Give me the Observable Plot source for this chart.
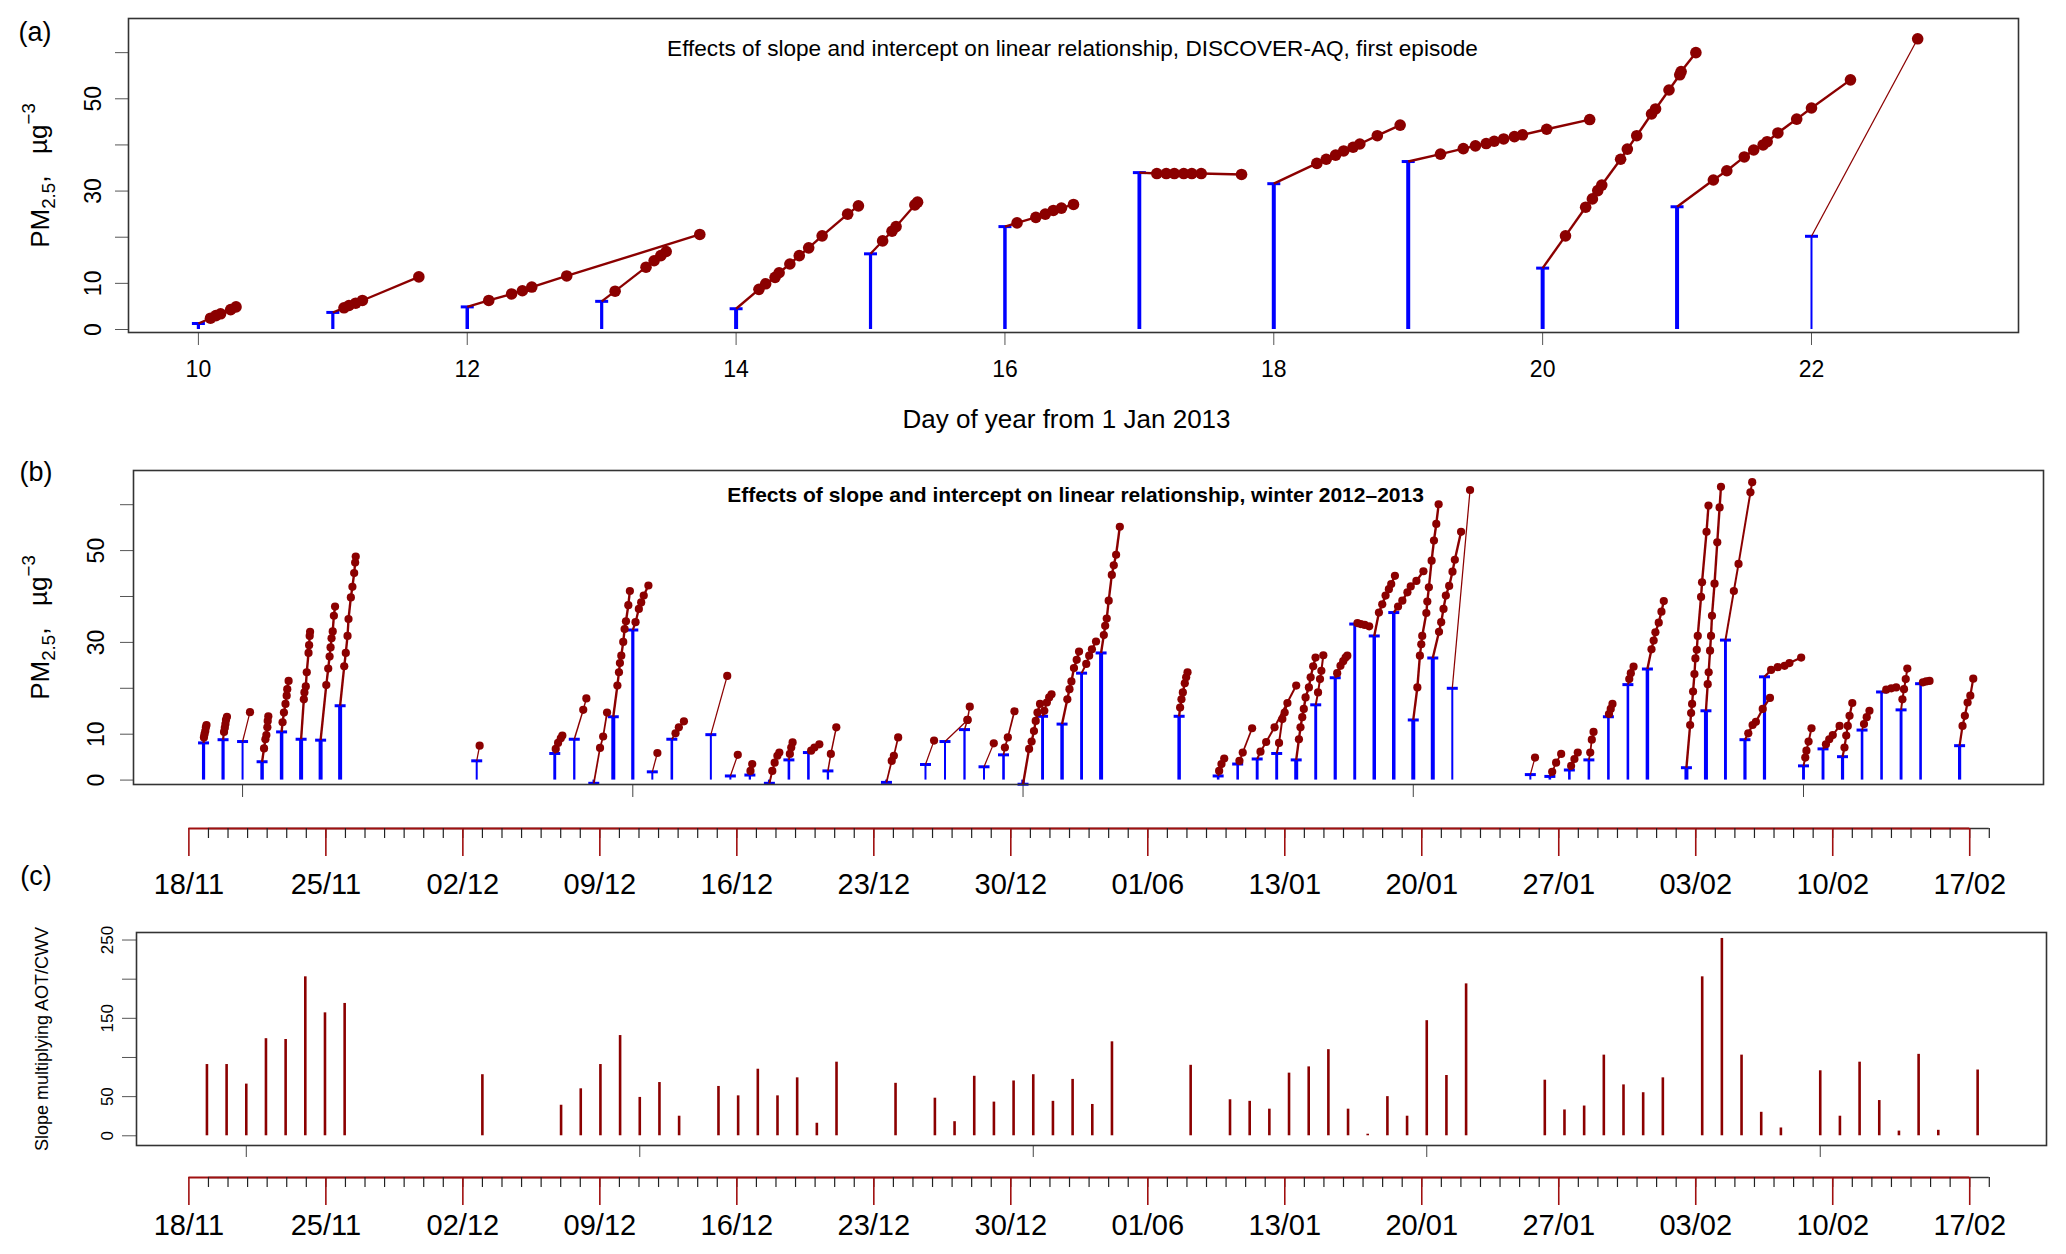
<!DOCTYPE html>
<html><head><meta charset="utf-8">
<script src="https://cdn.jsdelivr.net/npm/d3@7"></script>
<script src="https://cdn.jsdelivr.net/npm/@observablehq/plot@0.6"></script>
<style>
html,body{margin:0;padding:0;background:#fff;overflow:hidden;}
#wrap{position:relative;width:2066px;height:1254px;overflow:hidden;background:#fff;}
#wrap svg{position:absolute;left:0;}
</style></head><body><div id="wrap"></div>
<script>
// ---------- Panel (a): DISCOVER-AQ first episode ----------
const aDays = [10,11,12,13,14,15,16,17,18,19,20,21,22];
const aIntercept = [1.3,3.7,4.9,6.1,4.5,16.4,22.3,34.0,31.6,36.4,13.3,26.6,20.2];
// [offset in days from the bar, PM2.5]
const aDots = [
  [[0.09,2.45],[0.13,3.0],[0.165,3.4],[0.24,4.3],[0.28,4.9]],
  [[0.083,4.7],[0.12,5.2],[0.17,5.7],[0.22,6.3],[0.64,11.4]],
  [[0.16,6.3],[0.33,7.7],[0.41,8.4],[0.48,9.2],[0.74,11.6],[1.73,20.6]],
  [[0.1,8.3],[0.33,13.5],[0.39,14.9],[0.44,16.0],[0.48,16.9]],
  [[0.17,8.7],[0.22,9.9],[0.29,11.3],[0.32,12.3],[0.4,14.2],[0.47,16.0],[0.54,17.7],[0.64,20.3],[0.83,25.0],[0.91,26.8]],
  [[0.09,19.2],[0.16,21.3],[0.19,22.3],[0.33,27.0],[0.35,27.6]],
  [[0.09,23.1],[0.23,24.3],[0.3,25.0],[0.36,25.8],[0.42,26.3],[0.51,27.1]],
  [[0.13,33.8],[0.2,33.8],[0.26,33.8],[0.33,33.8],[0.39,33.8],[0.46,33.8],[0.76,33.6]],
  [[0.32,36.0],[0.39,36.9],[0.46,37.8],[0.52,38.7],[0.59,39.5],[0.64,40.2],[0.77,42.0],[0.94,44.3]],
  [[0.24,38.0],[0.41,39.2],[0.5,39.8],[0.58,40.3],[0.64,40.8],[0.71,41.3],[0.79,41.8],[0.85,42.2],[1.03,43.4],[1.35,45.5]],
  [[0.17,20.3],[0.32,26.5],[0.37,28.3],[0.41,30.1],[0.44,31.3],[0.58,36.9],[0.63,39.1],[0.7,42.0],[0.81,46.7],[0.84,47.8],[0.94,51.9],[1.02,55.2],[1.03,55.9],[1.14,60.0]],
  [[0.27,32.4],[0.37,34.4],[0.5,37.4],[0.57,38.9],[0.64,40.0],[0.67,40.7],[0.75,42.6],[0.89,45.6],[1.0,48.0],[1.29,54.1]],
  [[0.79,63.0]]
];
const aTicksX = [10,12,14,16,18,20,22];
const pmTicks = [0,10,20,30,40,50,60];
const pmLabels = [0,10,30,50];

// ---------- Panel (b): winter 2012-2013 ----------
const bDates = [
  "2012-11-19","2012-11-20","2012-11-21","2012-11-22","2012-11-23","2012-11-24","2012-11-25","2012-11-26",
  "2012-12-03",
  "2012-12-07","2012-12-08","2012-12-09","2012-12-10","2012-12-11","2012-12-12","2012-12-13",
  "2012-12-15","2012-12-16","2012-12-17","2012-12-18","2012-12-19","2012-12-20","2012-12-21",
  "2012-12-24",
  "2012-12-26","2012-12-27","2012-12-28","2012-12-29","2012-12-30","2012-12-31","2013-01-01","2013-01-02","2013-01-03","2013-01-04",
  "2013-01-08",
  "2013-01-10","2013-01-11","2013-01-12","2013-01-13","2013-01-14","2013-01-15","2013-01-16","2013-01-17","2013-01-18","2013-01-19","2013-01-20","2013-01-21","2013-01-22",
  "2013-01-26","2013-01-27","2013-01-28","2013-01-29","2013-01-30","2013-01-31","2013-02-01",
  "2013-02-03","2013-02-04","2013-02-05","2013-02-06","2013-02-07",
  "2013-02-09","2013-02-10","2013-02-11","2013-02-12","2013-02-13","2013-02-14","2013-02-15",
  "2013-02-17"
];
const bIntercept = [
  8.1,8.8,8.4,4.0,10.5,8.9,8.7,16.2,
  4.2,
  5.8,8.9,-0.7,13.8,32.7,1.8,8.9,
  9.9,0.9,1.1,-0.7,4.4,6.0,2.0,
  -0.5,
  3.4,8.4,11.0,2.9,5.5,-0.9,13.9,12.2,23.3,27.7,
  13.9,
  0.9,3.5,4.6,5.8,4.4,16.4,22.3,34.0,31.4,36.5,13.1,26.6,20.0,
  1.2,0.8,2.2,4.4,13.8,20.8,24.2,
  2.7,15.1,30.5,8.8,22.5,
  3.1,6.8,5.1,10.9,19.2,15.3,21.0,
  7.5
];
const bDots = [
  [[0.02,9.3],[0.05,10.0],[0.09,10.7],[0.12,11.5],[0.15,12.0]],
  [[0.05,10.5],[0.09,11.4],[0.12,12.2],[0.15,13.1],[0.2,13.8]],
  [[0.38,14.8]],
  [[0.1,6.9],[0.17,8.9],[0.22,9.8],[0.27,11.5],[0.29,12.9],[0.32,13.9]],
  [[0.05,12.6],[0.12,14.7],[0.2,16.6],[0.26,18.4],[0.29,19.8],[0.36,21.6]],
  [[0.14,17.6],[0.17,19.1],[0.24,20.4],[0.29,23.5],[0.38,27.7],[0.41,29.4],[0.44,31.4],[0.46,32.3]],
  [[0.29,20.7],[0.39,24.3],[0.46,26.9],[0.51,28.9],[0.56,30.9],[0.62,32.4],[0.68,35.8],[0.74,37.8]],
  [[0.21,24.8],[0.29,27.7],[0.38,31.4],[0.43,35.1],[0.55,39.8],[0.63,42.1],[0.72,45.1],[0.77,47.4],[0.8,48.7]],
  [[0.15,7.5]],
  [[0.05,6.8],[0.17,8.1],[0.31,9.1],[0.39,9.7]],
  [[0.46,15.3],[0.62,17.8]],
  [[0.32,7.0],[0.48,9.5],[0.68,14.7]],
  [[0.21,20.6],[0.29,23.5],[0.34,25.5],[0.41,27.1],[0.51,30.1],[0.58,32.9],[0.65,34.6],[0.77,38.1],[0.85,41.2]],
  [[0.14,34.4],[0.31,37.3],[0.43,38.7],[0.56,40.2],[0.8,42.4]],
  [[0.26,5.9]],
  [[0.19,10.2],[0.36,11.5],[0.62,12.8]],
  [[0.84,22.7]],
  [[0.38,5.5]],
  [[0.03,2.0],[0.12,3.5]],
  [[0.15,2.0],[0.27,3.8],[0.41,5.3],[0.51,6.0]],
  [[0.05,5.7],[0.12,7.1],[0.19,8.2]],
  [[0.14,6.4],[0.31,7.1],[0.56,7.8]],
  [[0.15,5.7],[0.43,11.5]],
  [[0.27,4.2],[0.38,5.3],[0.6,9.3]],
  [[0.44,8.6]],
  [[1.16,13.1]],
  [[0.15,13.1],[0.27,16.0]],
  [[0.5,8.0]],
  [[0.07,7.1],[0.22,9.3],[0.56,15.0]],
  [[0.31,6.8],[0.44,8.4],[0.56,10.7],[0.65,12.9],[0.74,14.7],[0.87,16.6]],
  [[0.09,15.1],[0.22,16.9],[0.34,18.0],[0.46,18.7]],
  [[0.27,17.6],[0.38,19.8],[0.48,21.5],[0.61,24.4],[0.75,26.2],[0.87,28.0]],
  [[0.24,25.3],[0.39,27.1],[0.53,28.5],[0.74,30.2]],
  [[0.14,31.6],[0.21,33.6],[0.29,35.2],[0.39,39.1],[0.55,44.7],[0.65,46.8],[0.77,49.1],[0.96,55.2]],
  [[0.05,15.8],[0.12,17.6],[0.19,19.1],[0.29,21.1],[0.36,22.4],[0.43,23.5]],
  [[0.05,2.0],[0.17,3.5],[0.31,4.7]],
  [[0.09,4.2],[0.26,6.0],[0.74,11.3]],
  [[0.17,6.2],[0.46,8.3],[0.89,11.5],[2.0,20.6]],
  [[0.12,8.1],[0.29,13.3],[0.41,14.7],[0.55,16.8]],
  [[0.14,8.9],[0.22,11.5],[0.31,13.7],[0.39,15.5],[0.48,18.0],[0.65,20.2],[0.74,22.4],[0.87,24.8],[0.99,26.7]],
  [[0.12,19.1],[0.22,22.0],[0.29,23.8],[0.39,27.2]],
  [[0.1,23.3],[0.27,24.9],[0.41,25.9],[0.53,26.7],[0.62,27.1]],
  [[0.14,34.2],[0.31,34.0],[0.51,33.8],[0.74,33.5]],
  [[0.24,36.5],[0.41,38.3],[0.58,40.2],[0.75,41.6],[0.87,42.7],[1.06,44.5]],
  [[0.22,37.8],[0.44,39.1],[0.7,40.9],[0.87,42.2],[1.16,43.4],[1.52,45.5]],
  [[0.21,20.2],[0.34,27.1],[0.41,29.6],[0.46,31.4],[0.67,36.4],[0.72,38.9],[0.8,42.0],[0.94,47.8],[1.06,52.2],[1.18,55.8],[1.3,60.1]],
  [[0.32,32.3],[0.43,34.4],[0.55,37.3],[0.67,40.2],[0.84,42.3],[1.01,45.4],[1.13,48.0],[1.45,54.1]],
  [[0.91,63.2]],
  [[0.24,4.9]],
  [[0.12,1.8],[0.32,3.8],[0.58,5.7]],
  [[0.09,3.1],[0.26,4.6],[0.43,6.0]],
  [[0.07,6.0],[0.15,8.8],[0.24,10.5]],
  [[0.03,14.4],[0.12,15.5],[0.21,16.6]],
  [[0.07,22.0],[0.15,23.3],[0.29,24.7]],
  [[0.21,28.5],[0.32,30.4],[0.41,32.2],[0.58,34.3],[0.72,36.7],[0.84,39.0]],
  [[0.19,12.0],[0.24,14.6],[0.29,16.6],[0.34,19.3],[0.41,23.1],[0.46,26.5],[0.53,28.4],[0.58,31.4],[0.75,39.9],[0.8,43.1],[1.03,54.1],[1.13,59.8]],
  [[0.09,20.9],[0.14,23.5],[0.21,28.2],[0.26,31.4],[0.31,35.8],[0.44,42.8],[0.58,51.8],[0.7,59.4],[0.77,63.9]],
  [[0.43,41.2],[0.67,47.1],[1.28,62.7],[1.37,64.9]],
  [[0.17,10.2],[0.39,12.0],[0.56,12.7],[0.91,15.5],[1.28,17.9]],
  [[0.34,24.0],[0.68,24.6],[1.03,24.9],[1.28,25.5],[1.88,26.7]],
  [[0.09,4.9],[0.15,6.4],[0.26,8.4],[0.41,11.3]],
  [[0.15,7.8],[0.32,8.9],[0.5,9.8],[0.85,11.8]],
  [[0.1,7.1],[0.19,9.7],[0.27,11.8],[0.36,14.0],[0.5,16.8]],
  [[0.1,12.2],[0.24,13.7],[0.38,15.1]],
  [[0.24,19.7],[0.5,20.0],[0.75,20.2]],
  [[0.07,17.6],[0.15,19.8],[0.24,22.0],[0.32,24.3]],
  [[0.12,21.3],[0.29,21.5],[0.46,21.6]],
  [[0.15,11.8],[0.27,14.0],[0.41,16.9],[0.55,18.4],[0.7,22.1]]
];

// ---------- Panel (c): slope multiplying AOT/CWV (same dates as bDates) ----------
const cSlope = [
  91,91,66,124,123,203,157,169,
  78,
  39,60,91,128,49,68,25,
  63,51,85,51,74,16,94,
  67,
  48,18,76,43,70,78,44,72,40,120,
  90,
  46,44,34,80,88,110,34,2,50,25,147,77,194,
  71,33,38,103,65,55,74,
  203,252,103,30,10,
  83,25,94,45,6,104,7,
  84
];
const slopeTicks = [0,50,100,150,200,250];
const slopeLabels = [0,50,150,250];

// ---------- date axes ----------
const gridTickDates = ["2012-11-21","2012-12-11","2012-12-31","2013-01-20","2013-02-09"];
const weekTickDates = ["2012-11-18","2012-11-25","2012-12-02","2012-12-09","2012-12-16","2012-12-23","2012-12-30",
  "2013-01-06","2013-01-13","2013-01-20","2013-01-27","2013-02-03","2013-02-10","2013-02-17"];
const weekTickLabels = ["18/11","25/11","02/12","09/12","16/12","23/12","30/12","01/06","13/01","20/01","27/01","03/02","10/02","17/02"];

const aTitle = "Effects of slope and intercept on linear relationship, DISCOVER-AQ, first episode";
const bTitle = "Effects of slope and intercept on linear relationship, winter 2012\u20132013";
const aXLabel = "Day of year from 1 Jan 2013";
const pmLabel = "PM2.5, \u00b5g-3";
const cYLabel = "Slope multiplying AOT/CWV";

// ================= drawing =================
const W = 2066;
const FONT = "'Liberation Sans', Arial, Helvetica, sans-serif";
const RED = "#8b0000", BLUE = "#0000ff", AXR = "#a01010";
const DAY0 = Date.UTC(2012, 10, 18);
const dayIndex = s => Math.round((Date.parse(s) - DAY0) / 864e5);
const capSymbol = {draw(ctx, size) { const r = Math.sqrt(size / Math.PI); ctx.moveTo(-r, 0); ctx.lineTo(r, 0); }};
const barW = n => Math.min(4.0, 1.7 + 0.3 * n);
const lineW = n => Math.min(2.4, 1.0 + 0.25 * n);

function build(xs, ints, dots) {
  const bars = [], segs = [], pts = [];
  xs.forEach((x, i) => {
    const n = dots[i].length;
    bars.push({x, y: ints[i], n});
    let px = x, py = ints[i];
    dots[i].forEach(([o, v]) => {
      segs.push({x1: px, y1: py, x2: x + o, y2: v, n});
      px = x + o; py = v;
      pts.push({x: x + o, y: v});
    });
  });
  return {bars, segs, pts};
}
const baseStyle = {fontFamily: FONT, fontSize: "23px", background: "transparent", color: "#000", overflow: "visible", maxWidth: "none"};
const wrap = document.getElementById("wrap");
function place(svg, top) { svg.style.top = top + "px"; wrap.appendChild(svg); }
function richPM(svg) {
  d3.select(svg).selectAll("text").filter(function () { return this.textContent === pmLabel; }).each(function () {
    const t = d3.select(this); t.text(null);
    t.append("tspan").text("PM");
    t.append("tspan").attr("font-size", "0.72em").attr("dy", "0.32em").text("2.5");
    t.append("tspan").attr("dy", "-0.32em").text(",\u00a0\u00a0\u00a0\u00b5g");
    t.append("tspan").attr("font-size", "0.72em").attr("dy", "-0.6em").text("\u22123");
  });
}
const txt = d => d;

// ----- (a)
const A = build(aDays, aIntercept, aDots);
const plotA = Plot.plot({
  width: W, height: 440, marginTop: 18, marginBottom: 108, marginLeft: 128, marginRight: 48,
  style: baseStyle,
  x: {domain: [9.48, 23.54], label: null}, y: {domain: [-0.65, 67.4], label: null},
  marks: [
    Plot.axisX({ticks: aTicksX, tickSize: 13, tickPadding: 15, label: null, fontSize: 23, stroke: "#555"}),
    Plot.axisY({ticks: pmTicks, tickSize: 13, tickPadding: 15, tickRotate: -90, label: null, fontSize: 23, stroke: "#555",
      tickFormat: d => pmLabels.includes(d) ? String(d) : ""}),
    Plot.ruleX(A.bars, {x: "x", y1: 0, y2: "y", stroke: BLUE, strokeWidth: d => barW(d.n)}),
    Plot.dot(A.bars, {x: "x", y: "y", symbol: capSymbol, r: 6.5, stroke: BLUE, strokeWidth: 3, fill: "none"}),
    Plot.link(A.segs, {x1: "x1", y1: "y1", x2: "x2", y2: "y2", stroke: RED, strokeWidth: d => lineW(d.n)}),
    Plot.dot(A.pts, {x: "x", y: "y", r: 5.8, fill: RED, stroke: "none"}),
    Plot.frame({stroke: "#333", strokeWidth: 1.6}),
    Plot.text([aTitle], {frameAnchor: "top", dy: 30, dx: -1, fontSize: 22.6, text: txt, lineAnchor: "middle"}),
    Plot.text([aXLabel], {frameAnchor: "bottom", dy: 87, dx: -7, fontSize: 26, text: txt, lineAnchor: "middle"}),
    Plot.text([pmLabel], {frameAnchor: "left", dx: -88, rotate: -90, textAnchor: "middle", lineAnchor: "middle", fontSize: 26, text: txt}),
    Plot.text(["(a)"], {frameAnchor: "top-left", dx: -93.5, dy: 14, textAnchor: "middle", lineAnchor: "middle", fontSize: 27, text: txt})
  ]
});
richPM(plotA); place(plotA, 0);

// ----- (b)
const bX = bDates.map(dayIndex);
const gridX = gridTickDates.map(dayIndex);
const B = build(bX, bIntercept, bDots);
const plotB = Plot.plot({
  width: W, height: 370, marginTop: 30, marginBottom: 26, marginLeft: 133, marginRight: 23,
  style: baseStyle,
  x: {domain: [-2.59, 95.3], label: null}, y: {domain: [-0.96, 67.45], label: null},
  marks: [
    Plot.axisX({ticks: gridX, tickSize: 13, label: null, tickFormat: () => "", stroke: "#444"}),
    Plot.axisY({ticks: pmTicks, tickSize: 13, tickPadding: 17, tickRotate: -90, label: null, fontSize: 23, stroke: "#555",
      tickFormat: d => pmLabels.includes(d) ? String(d) : ""}),
    Plot.ruleX(B.bars, {x: "x", y1: 0, y2: "y", stroke: BLUE, strokeWidth: d => barW(d.n)}),
    Plot.dot(B.bars, {x: "x", y: "y", symbol: capSymbol, r: 5.5, stroke: BLUE, strokeWidth: 3, fill: "none"}),
    Plot.link(B.segs, {x1: "x1", y1: "y1", x2: "x2", y2: "y2", stroke: RED, strokeWidth: d => lineW(d.n)}),
    Plot.dot(B.pts, {x: "x", y: "y", r: 4.1, fill: RED, stroke: "none"}),
    Plot.frame({stroke: "#333", strokeWidth: 1.6}),
    Plot.text([bTitle], {frameAnchor: "top", dy: 25, dx: -13, fontSize: 21, fontWeight: "bold", text: txt, lineAnchor: "middle"}),
    Plot.text([pmLabel], {frameAnchor: "left", dx: -93, rotate: -90, textAnchor: "middle", lineAnchor: "middle", fontSize: 26, text: txt}),
    Plot.text(["(b)"], {frameAnchor: "top-left", dx: -97.5, dy: 2, textAnchor: "middle", lineAnchor: "middle", fontSize: 27, text: txt})
  ]
});
richPM(plotB); place(plotB, 440);

// ----- date axes
const weekX = weekTickDates.map(dayIndex);
const minorX = d3.range(weekX[0] + 1, weekX[weekX.length - 1] + 2);
function dateAxis(height, mb, pad, extra) {
  return Plot.plot({
    width: W, height, marginTop: 0, marginBottom: mb, marginLeft: 133, marginRight: 23,
    style: baseStyle,
    x: {domain: [-2.83, 94.77], label: null}, y: {domain: [0, 1], axis: null, label: null},
    marks: [
      Plot.ruleY([{y: 0, a: minorX[0], b: minorX[minorX.length - 1]}], {y: "y", x1: "a", x2: "b", stroke: "#333", strokeWidth: 1.6}),
      Plot.ruleY([{y: 0, a: weekX[0], b: weekX[weekX.length - 1]}], {y: "y", x1: "a", x2: "b", stroke: AXR, strokeWidth: 1.8}),
      Plot.axisX({ticks: minorX, tickSize: 10, label: null, tickFormat: () => "", stroke: "#222", strokeWidth: 1.2}),
      Plot.axisX({ticks: weekX, tickSize: 28, tickPadding: pad, label: null, stroke: AXR, strokeWidth: 1.6, fontSize: 29,
        tickFormat: d => weekTickLabels[weekX.indexOf(d)]}),
      ...extra
    ]
  });
}
const plotDB = dateAxis(100, 82, 17, [
  Plot.text(["(c)"], {frameAnchor: "bottom-left", dx: -97.5, dy: 48, textAnchor: "middle", lineAnchor: "middle", fontSize: 27, text: txt})
]);
place(plotDB, 810);

// ----- (c)
const C = bX.map((x, i) => ({x, y: cSlope[i]}));
const plotC = Plot.plot({
  width: W, height: 255, marginTop: 22, marginBottom: 20, marginLeft: 136, marginRight: 20,
  style: baseStyle,
  x: {domain: [-2.58, 94.5], label: null}, y: {domain: [-12.4, 259.6], label: null},
  marks: [
    Plot.axisX({ticks: gridX, tickSize: 12, label: null, tickFormat: () => "", stroke: "#444"}),
    Plot.axisY({ticks: slopeTicks, tickSize: 14, tickPadding: 10, tickRotate: -90, label: null, fontSize: 17, stroke: "#555",
      tickFormat: d => slopeLabels.includes(d) ? String(d) : ""}),
    Plot.ruleX(C, {x: "x", y1: 0, y2: "y", stroke: RED, strokeWidth: 2.6}),
    Plot.frame({stroke: "#333", strokeWidth: 1.6}),
    Plot.text([cYLabel], {frameAnchor: "left", dx: -94, rotate: -90, textAnchor: "middle", lineAnchor: "middle", fontSize: 18, text: txt})
  ]
});
place(plotC, 910);

const plotDC = dateAxis(89, 77, 9, []);
place(plotDC, 1165);
</script></body></html>
